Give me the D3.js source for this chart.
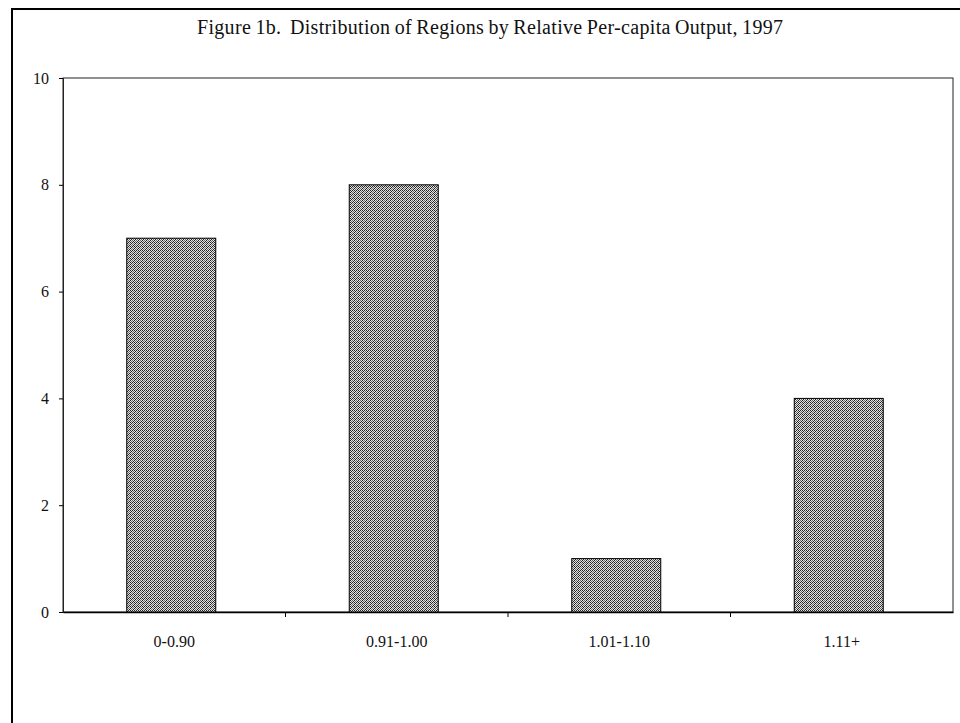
<!DOCTYPE html>
<html>
<head>
<meta charset="utf-8">
<script src="https://cdn.jsdelivr.net/npm/d3@7"></script>
<style>
  body { margin: 0; background: #fff; }
  svg { display: block; }
  text { font-family: "Liberation Serif", "DejaVu Serif", serif; fill: #111; }
</style>
</head>
<body>
<svg id="chart"></svg>
<script>
//**** DATA ****//
const categories = ["0-0.90", "0.91-1.00", "1.01-1.10", "1.11+"];
const regionCounts = [7, 8, 1, 4];
const yTicks = [0, 2, 4, 6, 8, 10];
const title = "Figure 1b.  Distribution of Regions by Relative Per-capita Output, 1997";

const width = 960,
      height = 723;

const margin = {top: 78, right: 7, bottom: 111, left: 63};

const svg = d3.select("#chart")
    .attr("width", width)
    .attr("height", height);

// dithered grey fill, like the scanned printout
const defs = svg.append("defs");
const pat = defs.append("pattern")
    .attr("id", "dither")
    .attr("width", 4)
    .attr("height", 4)
    .attr("patternUnits", "userSpaceOnUse");
pat.append("rect").attr("width", 4).attr("height", 4).attr("fill", "#e4e4e4");
[[0, 0], [2, 0], [1, 1], [3, 1], [0, 2], [2, 2], [1, 3], [3, 3]].forEach(function(p, i) {
    pat.append("rect")
        .attr("x", p[0]).attr("y", p[1])
        .attr("width", 1).attr("height", 1)
        .attr("fill", i % 3 === 0 ? "#666" : "#222");
});

// outer frame (only top and left edges are visible in the crop)
svg.append("path")
    .attr("d", "M12," + height + "V9H" + width)
    .attr("fill", "none")
    .attr("stroke", "#000")
    .attr("stroke-width", 2);

svg.append("text")
    .attr("x", 490)
    .attr("y", 34)
    .attr("text-anchor", "middle")
    .style("font-size", "20px")
    .style("word-spacing", "-1px")
    .attr("textLength", 586)
    .attr("xml:space", "preserve")
    .text(title);

const x = d3.scaleBand()
    .domain(categories)
    .range([margin.left, width - margin.right])
    .paddingInner(0.6)
    .paddingOuter(0.3);

const y = d3.scaleLinear()
    .domain([0, 10])
    .range([height - margin.bottom, margin.top]);

// plot area box
svg.append("rect")
    .attr("x", margin.left)
    .attr("y", margin.top)
    .attr("width", width - margin.right - margin.left)
    .attr("height", y(0) - margin.top)
    .attr("fill", "none")
    .attr("stroke", "#222")
    .attr("stroke-width", 1);

// y axis
const yAxis = svg.append("g")
    .attr("transform", "translate(" + margin.left + ",0)")
    .call(d3.axisLeft(y).tickValues(yTicks).tickSize(4).tickPadding(10).tickFormat(d3.format("d")));
yAxis.select(".domain").attr("stroke", "#222");
yAxis.selectAll("text").style("font-size", "16px");

// x axis with ticks on band boundaries
const xAxis = svg.append("g")
    .attr("transform", "translate(0," + y(0) + ")")
    .call(d3.axisBottom(x).tickSize(0).tickPadding(24));
xAxis.select(".domain").attr("stroke", "#000").attr("stroke-width", 1.5);
xAxis.selectAll("text").style("font-size", "16px");

const step = (width - margin.right - margin.left) / categories.length;
xAxis.selectAll(".bnd")
    .data(d3.range(1, categories.length))
    .enter()
    .append("line")
    .attr("x1", function(d) { return margin.left + d * step; })
    .attr("x2", function(d) { return margin.left + d * step; })
    .attr("y1", 0)
    .attr("y2", 5)
    .attr("stroke", "#000");

// bars
svg.append("g")
    .selectAll("rect")
    .data(regionCounts)
    .enter()
    .append("rect")
    .attr("x", function(d, i) { return x(categories[i]) - 3; })
    .attr("y", function(d) { return y(d); })
    .attr("width", x.bandwidth())
    .attr("height", function(d) { return y(0) - y(d); })
    .attr("fill", "url(#dither)")
    .attr("stroke", "#000")
    .attr("stroke-width", 1);
</script>
</body>
</html>
